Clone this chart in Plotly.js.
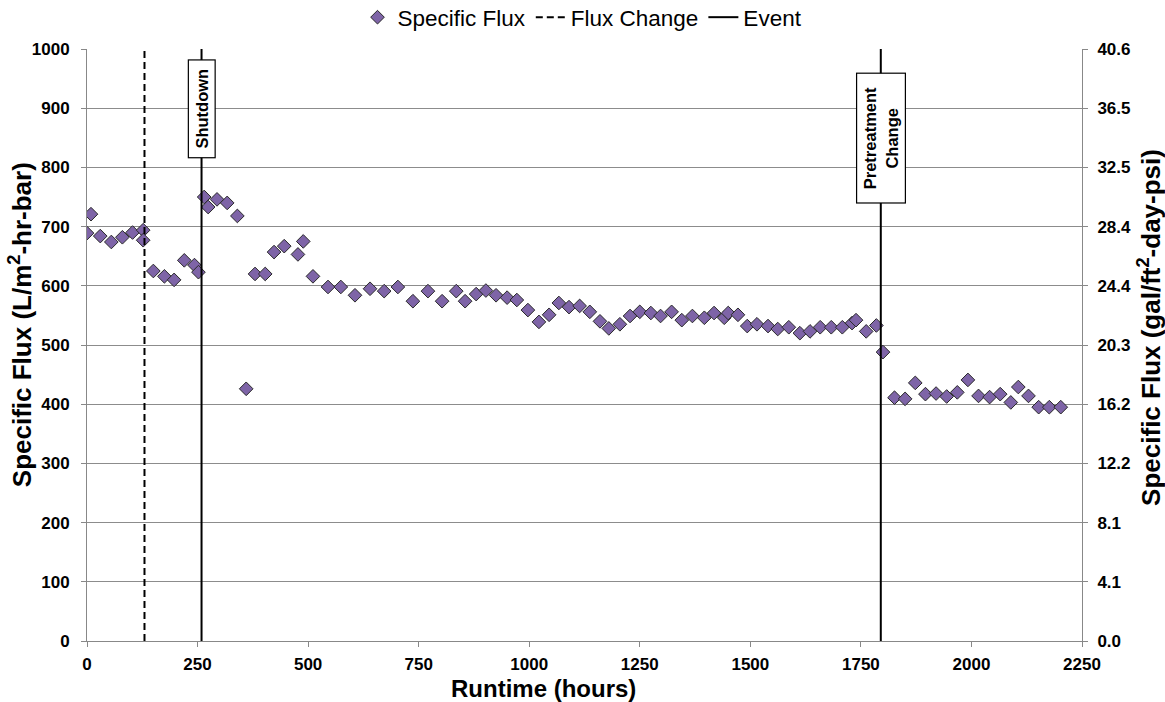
<!DOCTYPE html>
<html>
<head>
<meta charset="utf-8">
<script src="https://cdn.plot.ly/plotly-3.0.1.min.js"></script>
<style>html,body{margin:0;padding:0;background:#fff;}#chart{width:1165px;height:702px;}</style>
</head>
<body>
<div id="chart"></div>
<script>
// Runtime (hours) of each specific-flux measurement
const runtimeHours = [0, 9, 30, 55, 80, 103, 127, 127, 150, 175, 197, 220, 243, 252, 265, 274, 294, 317, 340, 360,
  380, 403, 423, 446, 477, 489, 511, 545, 574, 606, 640, 672, 703, 737, 771, 803, 835, 855, 880, 902,
  925, 950, 972, 997, 1022, 1045, 1067, 1090, 1114, 1137, 1160, 1180, 1205, 1228, 1250, 1275, 1297, 1322, 1345, 1369,
  1396, 1418, 1441, 1450, 1472, 1493, 1515, 1540, 1562, 1587, 1612, 1635, 1658, 1683, 1708, 1730, 1739, 1762, 1785, 1800,
  1826, 1850, 1873, 1896, 1920, 1944, 1968, 1992, 2016, 2041, 2065, 2089, 2106, 2129, 2152, 2176, 2202];
// Specific flux (L/m2-hr-bar)
const specificFlux = [689, 721, 684, 674, 682, 690, 694, 677, 625, 616, 610, 643, 635, 623, 750, 733, 746, 740, 718, 426,
  620, 620, 657, 667, 653, 675, 616, 598, 598, 584, 595, 591, 598, 574, 591, 574, 591, 574, 586, 592,
  584, 580, 576, 559, 539, 551, 571, 564, 566, 556, 540, 528, 535, 549, 556, 554, 549, 556, 542, 549,
  546, 554, 546, 554, 551, 532, 535, 532, 527, 530, 520, 523, 530, 530, 530, 537, 542, 523, 533, 488,
  411, 409, 436, 417, 418, 413, 420, 441, 414, 412, 417, 403, 429, 414, 395, 395, 395];
// Flux change (dashed) and events (solid)
const fluxChangeHours = [130];
const eventHours = [259, 1795];
const eventLabels = ['&nbsp;Shutdown&nbsp;', '&nbsp;&nbsp;Pretreatment&nbsp;&nbsp;<br>Change'];
const eventLabelY = [899, 850];
// Axis ticks and titles
const leftTickVals = [0, 100, 200, 300, 400, 500, 600, 700, 800, 900, 1000];
const rightTickLabels = ['0.0', '4.1', '8.1', '12.2', '16.2', '20.3', '24.4', '28.4', '32.5', '36.5', '40.6'];
const xTickVals = [0, 250, 500, 750, 1000, 1250, 1500, 1750, 2000, 2250];
const xTitle = 'Runtime (hours)';
const yTitleLeft = 'Specific Flux (L/m<sup>2</sup>-hr-bar)';
const yTitleRight = 'Specific Flux (gal/ft<sup>2</sup>-day-psi)';

const FONT = 'Liberation Sans, Arial, sans-serif';

function vlines(xs) {
  const x = [], y = [];
  xs.forEach((v, i) => { if (i) { x.push(null); y.push(null); } x.push(v, v); y.push(0, 1000); });
  return {x, y};
}
const fc = vlines(fluxChangeHours);
const ev = vlines(eventHours);

const traces = [
  {x: runtimeHours, y: specificFlux, type: 'scatter', mode: 'markers', name: 'Specific Flux',
   marker: {symbol: 'diamond', size: 10.5, color: '#7e64a7', line: {color: '#2a2a2a', width: 1}}},
  {x: fc.x, y: fc.y, type: 'scatter', mode: 'lines', name: 'Flux Change', connectgaps: false,
   line: {color: '#000', width: 2, dash: '7px,4px'}},
  {x: ev.x, y: ev.y, type: 'scatter', mode: 'lines', name: 'Event', connectgaps: false,
   line: {color: '#000', width: 2}},
  {x: [0], y: [0], yaxis: 'y2', type: 'scatter', mode: 'markers', showlegend: false, hoverinfo: 'skip',
   marker: {opacity: 0}}
];

const annotations = eventHours.map((h, i) => ({
  x: h, y: eventLabelY[i], xref: 'x', yref: 'y', text: '<b>' + eventLabels[i] + '</b>', showarrow: false,
  textangle: -90, font: {family: FONT, size: 16.5, color: '#000'}, bgcolor: '#fff', bordercolor: '#000',
  borderwidth: 1.2, borderpad: 4
}));
annotations.push(
  {xref: 'paper', yref: 'paper', x: 0.459, y: -0.081, xanchor: 'center', yanchor: 'middle', showarrow: false,
   text: '<b>' + xTitle + '</b>', font: {family: FONT, size: 24, color: '#000'}},
  {xref: 'paper', yref: 'paper', x: -0.066, y: 0.534, xanchor: 'center', yanchor: 'middle', showarrow: false,
   textangle: -90, text: '<b>' + yTitleLeft + '</b>', font: {family: FONT, size: 26, color: '#000'}},
  {xref: 'paper', yref: 'paper', x: 1.068, y: 0.530, xanchor: 'center', yanchor: 'middle', showarrow: false,
   textangle: -90, text: '<b>' + yTitleRight + '</b>', font: {family: FONT, size: 26, color: '#000'}}
);

const layout = {
  width: 1165, height: 702,
  margin: {l: 87, r: 83, t: 49, b: 61},
  paper_bgcolor: '#fff', plot_bgcolor: '#fff',
  font: {family: FONT, color: '#000'},
  showlegend: true,
  legend: {orientation: 'h', x: 0.5, xanchor: 'center', xref: 'container', yref: 'container', y: 0.975, yanchor: 'middle',
    font: {family: FONT, size: 22.5, color: '#000'}, itemwidth: 30},
  xaxis: {range: [0, 2250], tickvals: xTickVals, showgrid: false, zeroline: false, showline: true, linecolor: '#888',
    linewidth: 1, ticks: 'outside', ticklen: 5, tickcolor: '#888', ticklabelstandoff: 3,
    tickfont: {family: FONT, size: 17, weight: 'bold'}},
  yaxis: {range: [0, 1000], tickvals: leftTickVals, showgrid: true, gridcolor: '#8c8c8c', gridwidth: 1, zeroline: false,
    showline: true, linecolor: '#888', ticks: 'outside', ticklen: 5, tickcolor: '#888', ticklabelstandoff: 8,
    tickfont: {family: FONT, size: 17, weight: 'bold'}},
  yaxis2: {range: [0, 1000], overlaying: 'y', side: 'right', tickvals: leftTickVals, ticktext: rightTickLabels,
    showgrid: false, zeroline: false, showline: true, linecolor: '#888', ticks: 'outside', ticklen: 5, tickcolor: '#888',
    ticklabelstandoff: 6, tickfont: {family: FONT, size: 17, weight: 'bold'}},
  annotations: annotations
};

Plotly.newPlot('chart', traces, layout, {displayModeBar: false, staticPlot: true});
</script>
</body>
</html>
